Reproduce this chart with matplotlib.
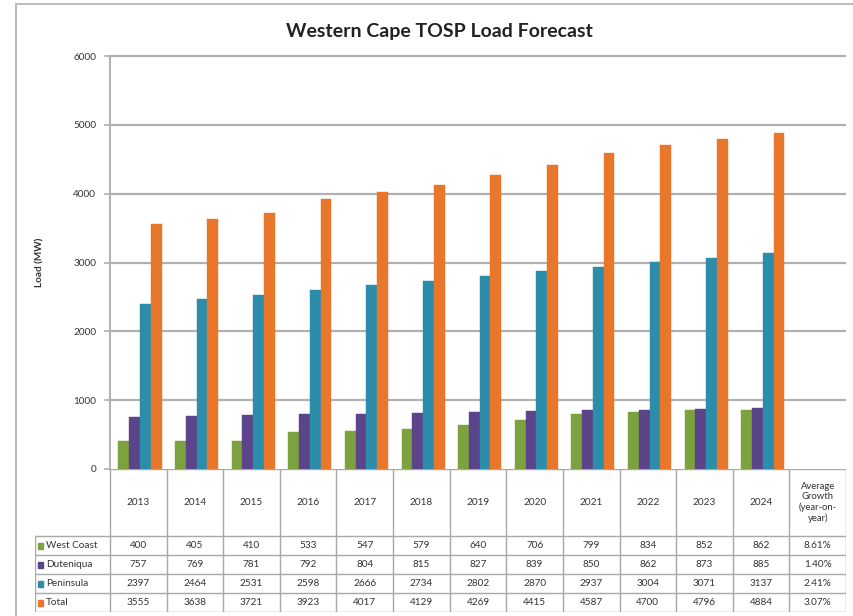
import numpy as np
import matplotlib.pyplot as plt
from matplotlib.patches import Rectangle
from matplotlib.lines import Line2D

plt.rcParams['font.family'] = ['Lato', 'DejaVu Sans']

years = ["2013", "2014", "2015", "2016", "2017", "2018",
         "2019", "2020", "2021", "2022", "2023", "2024"]
growth_header = "Average\nGrowth\n(year-on-\nyear)"
series_names = ["West Coast", "Duteniqua", "Peninsula", "Total"]
west_coast = [400, 405, 410, 533, 547, 579, 640, 706, 799, 834, 852, 862]
duteniqua = [757, 769, 781, 792, 804, 815, 827, 839, 850, 862, 873, 885]
peninsula = [2397, 2464, 2531, 2598, 2666, 2734, 2802, 2870, 2937, 3004, 3071, 3137]
total = [3555, 3638, 3721, 3923, 4017, 4129, 4269, 4415, 4587, 4700, 4796, 4884]
avg_growth = ["8.61%", "1.40%", "2.41%", "3.07%"]
y_ticks = [0, 1000, 2000, 3000, 4000, 5000, 6000]

colors = ["#7BA23F", "#5B4489", "#2B8DAA", "#E8762B"]
grid_c = "#B0B0B0"
text_c = "#333333"
fs = 7.2

W, H = 854, 616
fig = plt.figure(figsize=(W / 100, H / 100), dpi=100)

def px(x0, y0, x1, y1):
    # pixel box (top-left origin) -> figure fraction rect
    return [x0 / W, 1 - y1 / H, (x1 - x0) / W, (y1 - y0) / H]

# outer frame (left and top edges show)
fig.add_artist(Line2D([16 / W, 16 / W], [0, 1 - 4 / H], color="#BDBDBD", lw=1.5))
fig.add_artist(Line2D([16 / W, 1], [1 - 4 / H, 1 - 4 / H], color="#BDBDBD", lw=1.5))

ncat = len(years) + 1
ax = fig.add_axes(px(110, 56, 846, 469))
ax.set_xlim(-0.5, ncat - 0.5)
ax.set_ylim(0, 6000)

# horizontal gridlines
for yv in y_ticks[1:]:
    ax.plot([-0.5, ncat - 0.5], [yv, yv], color=grid_c, lw=1.6,
            solid_capstyle="butt", zorder=1, clip_on=False)

all_series = [west_coast, duteniqua, peninsula, total]
bw = 0.19
x = np.arange(len(years))
for i, (vals, c) in enumerate(zip(all_series, colors)):
    ax.bar(x + (i - 1.5) * bw + 0.03, vals, width=bw, color=c,
           edgecolor=c, linewidth=0.3, zorder=3)

ax.set_yticks(y_ticks)
ax.set_yticklabels([str(v) for v in y_ticks], fontsize=fs, color=text_c)
ax.tick_params(axis="y", length=4, color=grid_c, width=1.2, pad=6)
ax.set_xticks([])
for s in ["top", "right", "bottom"]:
    ax.spines[s].set_visible(False)
ax.spines["left"].set_color(grid_c)
ax.spines["left"].set_linewidth(1.4)

fig.text(40 / W, 1 - 262 / H, "Load (MW)", rotation=90, fontsize=fs,
         fontweight="bold", color=text_c, ha="center", va="center")
fig.text(439 / W, 1 - 31 / H, "Western Cape TOSP Load Forecast",
         fontsize=14, fontweight="bold", color="#222222", ha="center", va="center")

# data table under the axis
lab_w = (110 - 35) / (736 / ncat)
tx = fig.add_axes(px(35, 469, 846, 612))
tx.set_xlim(-0.5 - lab_w, ncat - 0.5)
tx.set_ylim(143, 0)
tx.axis("off")
line_kw = dict(color="#A8A8A8", lw=1.0)
hdr = 67
rh = 19
# vertical separators
for k in range(ncat + 1):
    tx.plot([k - 0.5, k - 0.5], [0, 143], **line_kw)
tx.plot([-0.5 - lab_w, -0.5 - lab_w], [hdr, 143], **line_kw)
# horizontal lines
tx.plot([-0.5, ncat - 0.5], [0, 0], **line_kw)
for r in range(5):
    tx.plot([-0.5 - lab_w, ncat - 0.5], [hdr + r * rh] * 2, **line_kw)

for k, yr in enumerate(years):
    tx.text(k, hdr / 2, yr, fontsize=fs, color=text_c, ha="center", va="center")
tx.text(len(years), hdr / 2, growth_header, fontsize=6.8, color=text_c,
        ha="center", va="center", linespacing=1.2)

for r, (name, vals, c) in enumerate(zip(series_names, all_series, colors)):
    yc = hdr + r * rh + rh / 2
    x0 = -0.5 - lab_w + 0.05
    tx.add_patch(Rectangle((x0, yc - 3), 0.1, 6, color=c))
    tx.text(x0 + 0.14, yc, name, fontsize=fs, color=text_c, ha="left", va="center")
    for k, v in enumerate(vals):
        tx.text(k, yc, str(v), fontsize=fs, color=text_c, ha="center", va="center")
    tx.text(len(years), yc, avg_growth[r], fontsize=fs, color=text_c,
            ha="center", va="center")

fig.savefig("out.png", dpi=100)
